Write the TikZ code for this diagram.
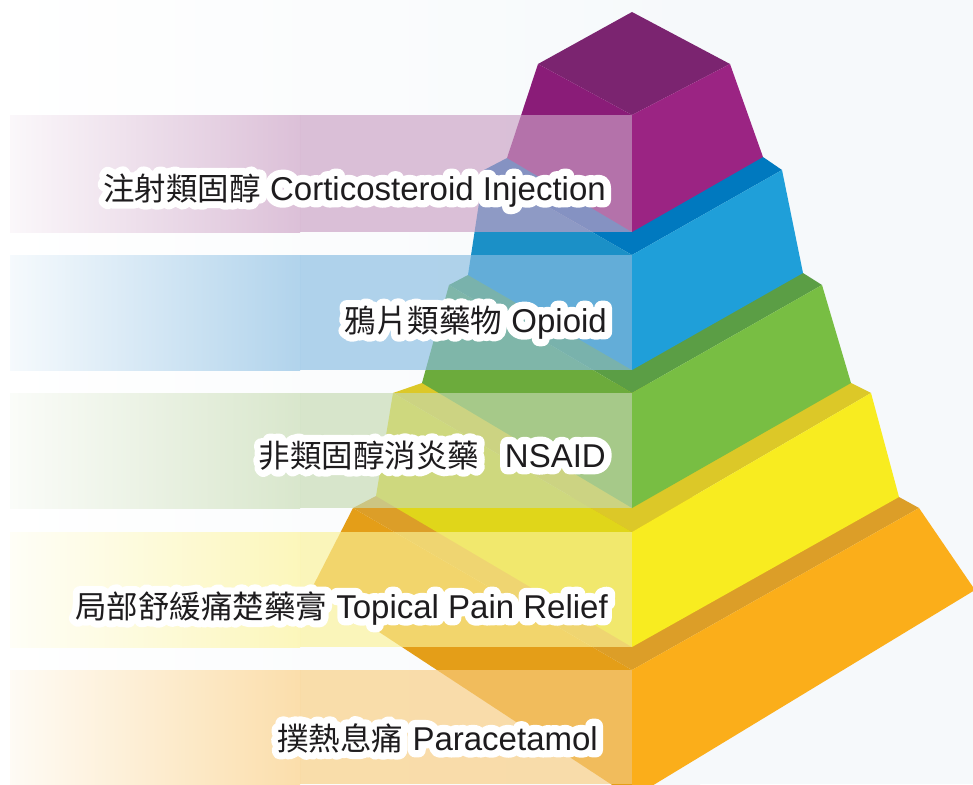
\documentclass[tikz,border=0pt]{standalone}
\usepackage{fontspec}
\setmainfont{Liberation Sans}
\newfontfamily\cjkfont{Noto Sans CJK TC}
% emboldened faces, used in white behind the labels as an outline
\newfontfamily\latinhalo{Liberation Sans}[FakeBold=45]
\newfontfamily\cjkhalo{Noto Sans CJK TC}[FakeBold=45]
\usetikzlibrary{calc}

% page and tier colours
\definecolor{bgR}{RGB}{246,249,251}
\definecolor{puTop}{RGB}{123,36,112}
\definecolor{puLeft}{RGB}{138,28,120}
\definecolor{puRight}{RGB}{155,36,131}
\definecolor{blTop}{RGB}{0,121,191}
\definecolor{blLeft}{RGB}{27,144,199}
\definecolor{blRight}{RGB}{31,159,217}
\definecolor{grTop}{RGB}{91,158,69}
\definecolor{grLeft}{RGB}{108,171,60}
\definecolor{grRight}{RGB}{120,190,67}
\definecolor{yeTop}{RGB}{220,200,40}
\definecolor{yeLeft}{RGB}{224,214,26}
\definecolor{yeRight}{RGB}{248,236,32}
\definecolor{orTop}{RGB}{220,158,40}
\definecolor{orLeft}{RGB}{228,158,24}
\definecolor{orRight}{RGB}{251,174,26}
% label strip colours
\definecolor{puBand}{RGB}{202,160,196}
\definecolor{blBand}{RGB}{137,189,226}
\definecolor{grBand}{RGB}{197,218,178}
\definecolor{yeBand}{RGB}{250,242,152}
\definecolor{orBand}{RGB}{249,205,128}
\definecolor{ink}{RGB}{30,28,30}

\newif\ifhalo
\newcommand\cj[1]{{\ifhalo\cjkhalo\else\cjkfont\fi\fontsize{31.5}{36}\selectfont #1}}

\tikzset{
  lbl/.style={anchor=base east, inner sep=0pt, font=\fontsize{33}{36}\selectfont},
  halo/.style={lbl, text=white, line join=round, line cap=round},
}

% one tier: prefix, top colour, left colour, right colour, polygon of the top face
\newcommand\drawtier[5]{%
  \fill[#2] #5 -- cycle;
  \fill[#3] (#1TL) -- (#1TF) -- (#1BF) -- (#1BL) -- cycle;
  \fill[#4] (#1TF) -- (#1TR) -- (#1BR) -- (#1BF) -- cycle;
}

% translucent label strip: name, colour, top y, bottom y
\newcommand\labelstrip[4]{%
  \shade[left color=#2!8!white, right color=#2!66!white] (10,#3) rectangle (300,#4);
  \fill[#2, fill opacity=0.66] (300,#3) rectangle (632,#4);
  \coordinate (#1) at (10,#3);
}

% outlined label text: name, base-east position, text
\newcommand\outlined[3]{%
  \node[halo] (#1o) at (#2) {\halotrue\latinhalo #3};
  \node[lbl, text=ink] (#1) at (#2) {\halofalse #3};
}

\begin{document}
\begin{tikzpicture}[x=1pt,y=-1pt]
\useasboundingbox (0,0) rectangle (973,784);

% background
\fill[bgR] (0,0) rectangle (973,784);
\shade[left color=white, right color=bgR] (0,0) rectangle (700,784);

% ---------- tier corners ----------
% orange (base)
\coordinate (oTL) at (353,508); \coordinate (oTR) at (919,508);
\coordinate (oTF) at (632,670);
\coordinate (oBL) at (312,588); \coordinate (oBR) at (975,590);
\coordinate (oBF) at (632,798);
% yellow
\coordinate (yTL) at (393,393); \coordinate (yTR) at (871,393);
\coordinate (yTF) at (632,532);
\coordinate (yBL) at (376,496); \coordinate (yBR) at (899,497);
\coordinate (yBF) at (632,647);
% green
\coordinate (gTL) at (449,285); \coordinate (gTR) at (822,285);
\coordinate (gTF) at (632,393);
\coordinate (gBL) at (422,383); \coordinate (gBR) at (851,383);
\coordinate (gBF) at (632,508);
% blue
\coordinate (bTL) at (484,170); \coordinate (bTR) at (782,170);
\coordinate (bTF) at (632,255);
\coordinate (bBL) at (468,275); \coordinate (bBR) at (803,273);
\coordinate (bBF) at (632,370);
% purple (summit)
\coordinate (pTL) at (538,64); \coordinate (pTR) at (730,64);
\coordinate (pTF) at (632,115); \coordinate (pTB) at (632,12);
\coordinate (pBL) at (507,158); \coordinate (pBR) at (763,157);
\coordinate (pBF) at (632,232);

% ---------- tiers, bottom to top ----------
\drawtier{o}{orTop}{orLeft}{orRight}{(oTL) -- (yBL) -- (yBR) -- (oTR) -- (oTF)}
\drawtier{y}{yeTop}{yeLeft}{yeRight}{(yTL) -- (gBL) -- (gBR) -- (yTR) -- (yTF)}
\drawtier{g}{grTop}{grLeft}{grRight}{(gTL) -- (bBL) -- (bBR) -- (gTR) -- (gTF)}
\drawtier{b}{blTop}{blLeft}{blRight}{(bTL) -- (pBL) -- (pBR) -- (bTR) -- (bTF)}
\drawtier{p}{puTop}{puLeft}{puRight}{(pTL) -- (pTB) -- (pTR) -- (pTF)}

% ---------- label strips ----------
\labelstrip{s1}{puBand}{115}{232}
\labelstrip{s2}{blBand}{255}{370}
\labelstrip{s3}{grBand}{393}{508}
\labelstrip{s4}{yeBand}{532}{647}
\labelstrip{s5}{orBand}{670}{784}

% ---------- labels ----------
\outlined{t1}{606,200}{\cj{注射類固醇} Corticosteroid Injection}
\outlined{t2}{607,332}{\cj{鴉片類藥物} Opioid}
\outlined{t3}{606,467}{\cj{非類固醇消炎藥}\hspace{0.5em} NSAID}
\outlined{t4}{608,618}{\cj{局部舒緩痛楚藥膏} Topical Pain Relief}
\outlined{t5}{598,750}{\cj{撲熱息痛} Paracetamol}

\end{tikzpicture}
\end{document}
